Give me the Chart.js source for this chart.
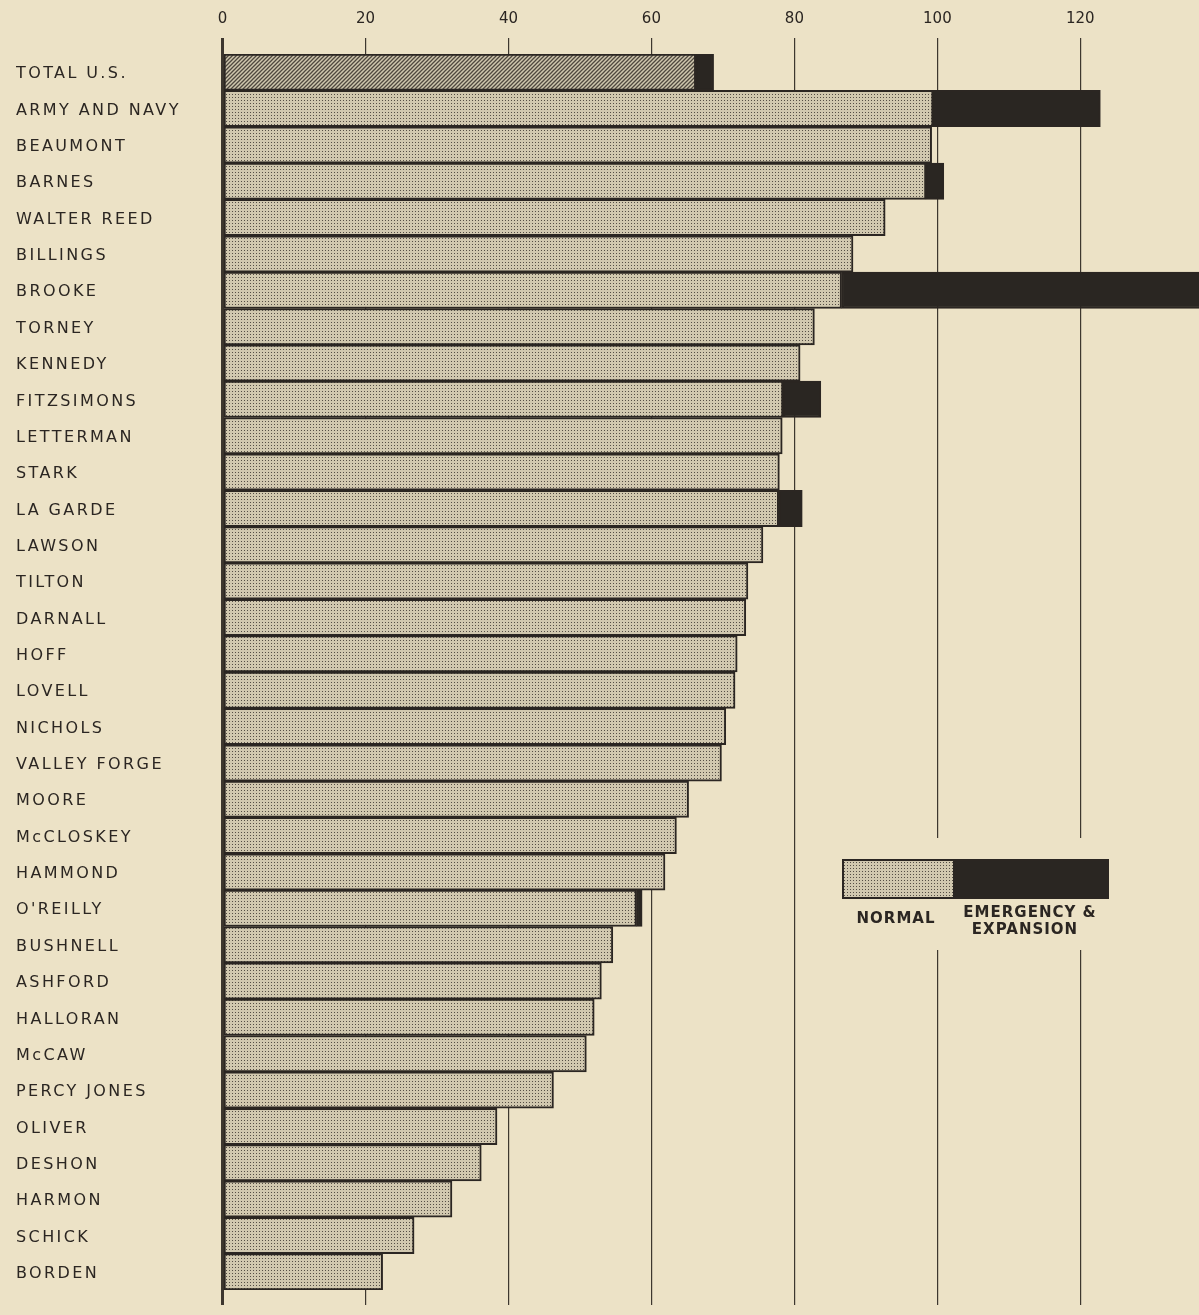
<!DOCTYPE html>
<html>
<head>
<meta charset="utf-8">
<script src="https://cdn.jsdelivr.net/npm/chart.js@4.4.1/dist/chart.umd.min.js"></script>
<style>
  html, body { margin: 0; padding: 0; background: #ece2c6; }
  canvas { display: block; }
</style>
</head>
<body>
<canvas id="hospChart" width="1199" height="1315"></canvas>
<script>
const hospitals = ['TOTAL U.S.', 'ARMY AND NAVY', 'BEAUMONT', 'BARNES', 'WALTER REED', 'BILLINGS', 'BROOKE',
    'TORNEY', 'KENNEDY', 'FITZSIMONS', 'LETTERMAN', 'STARK', 'LA GARDE', 'LAWSON', 'TILTON', 'DARNALL',
    'HOFF', 'LOVELL', 'NICHOLS', 'VALLEY FORGE', 'MOORE', 'McCLOSKEY', 'HAMMOND', "O'REILLY", 'BUSHNELL',
    'ASHFORD', 'HALLORAN', 'McCAW', 'PERCY JONES', 'OLIVER', 'DESHON', 'HARMON', 'SCHICK', 'BORDEN'];

const normal = [66.2, 99.4, 99.2, 98.4, 92.7, 88.2, 86.6, 82.8, 80.8, 78.4, 78.3, 77.9, 77.8, 75.6, 73.5, 73.2,
    72.0, 71.7, 70.4, 69.8, 65.2, 63.5, 61.9, 57.9, 54.6, 53.0, 52.0, 50.9, 46.3, 38.4, 36.2, 32.1, 26.8, 22.4];

const emergency = [2.5, 23.4, null, 2.5, null, null, 50.4, null, null, 5.3, null, null, 3.3, null, null, null,
    null, null, null, null, null, null, null, 0.8, null, null, null, null, null, null, null, null, null, null];

const xTicks = [0, 20, 40, 60, 80, 100, 120];

const INK = '#2b2622';
const DARK = '#2a2622';
const PAPER = '#ece2c6';

function stipple() {
    const c = document.createElement('canvas');
    c.width = 3; c.height = 3;
    const g = c.getContext('2d');
    g.fillStyle = '#d1c8af';
    g.fillRect(0, 0, 3, 3);
    g.fillStyle = '#554e45';
    g.fillRect(1, 1, 1, 1);
    return g.createPattern(c, 'repeat');
}

function hatch() {
    const c = document.createElement('canvas');
    c.width = 4; c.height = 4;
    const g = c.getContext('2d');
    g.fillStyle = '#cfc7ae';
    g.fillRect(0, 0, 4, 4);
    g.strokeStyle = '#4f483f';
    g.lineWidth = 1.3;
    g.beginPath();
    g.moveTo(0, 4); g.lineTo(4, 0);
    g.moveTo(-1, 1); g.lineTo(1, -1);
    g.moveTo(3, 5); g.lineTo(5, 3);
    g.stroke();
    return g.createPattern(c, 'repeat');
}

const dots = stipple();
const lines = hatch();

const keyBox = {
    id: 'keyBox',
    afterDraw(chart) {
        const ctx = chart.ctx;
        ctx.save();
        ctx.fillStyle = PAPER;
        ctx.fillRect(834, 838, 282, 112);
        ctx.fillStyle = dots;
        ctx.fillRect(843, 860, 110, 38);
        ctx.fillStyle = DARK;
        ctx.fillRect(953, 860, 155, 38);
        ctx.strokeStyle = INK;
        ctx.lineWidth = 2;
        ctx.strokeRect(843, 860, 265, 38);
        ctx.fillStyle = INK;
        ctx.font = 'bold 15px "DejaVu Sans"';
        ctx.letterSpacing = '1px';
        ctx.textAlign = 'center';
        ctx.textBaseline = 'middle';
        ctx.fillText('NORMAL', 896, 919);
        ctx.fillText('EMERGENCY &', 1030, 913);
        ctx.fillText('EXPANSION', 1025, 930);
        ctx.restore();
    },
};

const fixTicks = scale => { scale.ticks = xTicks.map(v => ({ value: v })); };

// wider letter spacing for the hospital names only
const spacedLabels = scale => {
    if (scale._spaced) return;
    const drawLabels = scale.drawLabels.bind(scale);
    scale.drawLabels = area => {
        const ctx = scale.ctx;
        ctx.save();
        ctx.letterSpacing = '2.4px';
        drawLabels(area);
        ctx.restore();
    };
    scale._spaced = true;
};

new Chart(document.getElementById('hospChart'), {
    type: 'bar',
    data: {
        labels: hospitals,
        datasets: [{
            label: 'NORMAL',
            data: normal,
            backgroundColor: hospitals.map((h, i) => i === 0 ? lines : dots),
            borderColor: INK,
            borderWidth: 2,
            borderSkipped: false,
            barPercentage: 1,
            categoryPercentage: 1,
        }, {
            label: 'EMERGENCY & EXPANSION',
            data: emergency,
            backgroundColor: DARK,
            borderColor: INK,
            borderWidth: 2,
            borderSkipped: false,
            barPercentage: 1,
            categoryPercentage: 1,
        }],
    },
    options: {
        indexAxis: 'y',
        responsive: false,
        animation: false,
        layout: { padding: { left: 16, top: 0, right: 0, bottom: 10 } },
        plugins: {
            legend: { display: false },
            tooltip: { enabled: false },
        },
        scales: {
            x: {
                position: 'top',
                stacked: true,
                min: 0,
                max: 136.6,
                afterBuildTicks: fixTicks,
                border: { display: false },
                grid: {
                    color: '#3d372f',
                    lineWidth: ctx => ctx.tick && ctx.tick.value === 0 ? 3 : 1.2,
                    tickLength: 16,
                },
                ticks: {
                    color: INK,
                    padding: 10,
                    font: { family: 'DejaVu Sans', size: 15 },
                },
            },
            x2: {
                position: 'bottom',
                min: 0,
                max: 136.6,
                afterBuildTicks: fixTicks,
                border: { display: false },
                grid: {
                    color: '#3d372f',
                    lineWidth: ctx => ctx.tick && ctx.tick.value === 0 ? 3 : 1.2,
                    drawOnChartArea: false,
                    tickLength: 15,
                },
                ticks: { display: false },
            },
            y: {
                stacked: true,
                border: { display: false },
                grid: { display: false },
                afterFit: scale => { scale.width = 206.5; },
                afterUpdate: spacedLabels,
                ticks: {
                    crossAlign: 'far',
                    color: INK,
                    padding: 0,
                    labelOffset: 2,
                    font: { family: 'DejaVu Sans', size: 16 },
                },
            },
        },
    },
    plugins: [keyBox],
});
</script>
</body>
</html>
